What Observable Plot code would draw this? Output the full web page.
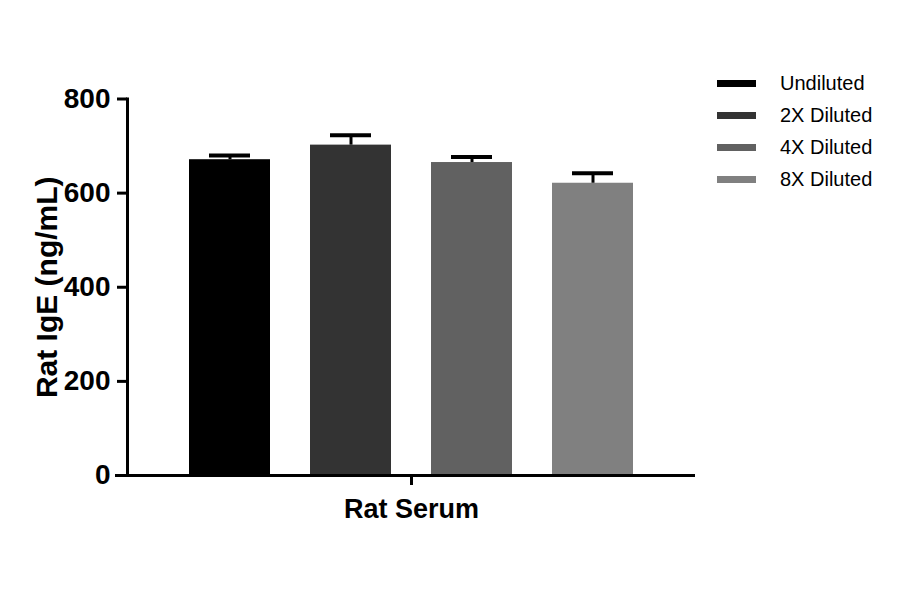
<!DOCTYPE html>
<html>
<head>
<meta charset="utf-8">
<script src="https://cdn.jsdelivr.net/npm/d3@7"></script>
<script src="https://cdn.jsdelivr.net/npm/@observablehq/plot@0.6"></script>
<style>
  html, body { margin: 0; padding: 0; background: #fff; }
  #wrap { position: relative; width: 900px; height: 594px; }
  #legend { position: absolute; left: 717px; top: 69px; font-family: "Liberation Sans", Arial, sans-serif; font-size: 20px; color: #000; }
  .row { display: flex; align-items: center; height: 28px; margin-bottom: 4.2px; }
  .sw { width: 39px; height: 7px; margin-right: 24px; }
  g[aria-label="fx-axis tick"], g[aria-label="fx-axis tick"] *,
  g[aria-label="y-axis tick"], g[aria-label="y-axis tick"] * { stroke-width: 3px; stroke: #000; }
</style>
</head>
<body>
<div id="wrap"><div id="legend"></div></div>
<script>
const group = "Rat Serum";
const series = ["Undiluted", "2X Diluted", "4X Diluted", "8X Diluted"];
const means = [671, 702, 665, 621];
const errors = [9, 21, 12, 21];
const colors = ["#000000", "#333333", "#616161", "#808080"];
const yTicks = [0, 200, 400, 600, 800];
const yLabel = "Rat IgE (ng/mL)";

const data = series.map((s, i) => ({group, series: s, value: means[i], err: errors[i]}));

const chart = Plot.plot({
  width: 900,
  height: 594,
  marginLeft: 127,
  marginRight: 205,
  marginTop: 98.5,
  marginBottom: 119,
  style: {fontFamily: "'Liberation Sans', Arial, sans-serif", background: "white", color: "black"},
  fx: {domain: [group], padding: 0},
  x: {domain: series, paddingInner: 0.334, paddingOuter: 0.5, axis: null},
  y: {domain: [0, 800]},
  color: {domain: series, range: colors},
  marks: [
    Plot.barY(data, {fx: "group", x: "series", y: "value", fill: "series"}),
    Plot.ruleX(data, {fx: "group", x: "series", y1: "value", y2: d => d.value + d.err, stroke: "black", strokeWidth: 3}),
    Plot.tickY(data, {fx: "group", x: "series", y: d => d.value + d.err, stroke: "black", strokeWidth: 4, insetLeft: 20, insetRight: 20}),
    Plot.ruleY([0], {stroke: "black", strokeWidth: 3, insetLeft: -12}),
    Plot.frame({anchor: "left", stroke: "black", strokeWidth: 3}),
    Plot.axisY({ticks: yTicks, tickSize: 10, tickPadding: 7, strokeWidth: 3, fontSize: 28, fontWeight: "bold", label: null}),
    Plot.axisY({ticks: [], tickSize: 0, fontSize: 30, fontWeight: "bold",
      label: yLabel, labelAnchor: "center", labelOffset: 92, labelArrow: "none"}),
    Plot.axisFx({anchor: "bottom", tickSize: 10, tickPadding: 13, strokeWidth: 3, fontSize: 27, fontWeight: "bold", label: null})
  ]
});
document.getElementById("wrap").prepend(chart);

const legend = document.getElementById("legend");
series.forEach((s, i) => {
  const row = document.createElement("div");
  row.className = "row";
  const sw = document.createElement("div");
  sw.className = "sw";
  sw.style.background = colors[i];
  const t = document.createElement("span");
  t.textContent = s;
  row.append(sw, t);
  legend.append(row);
});
</script>
</body>
</html>
